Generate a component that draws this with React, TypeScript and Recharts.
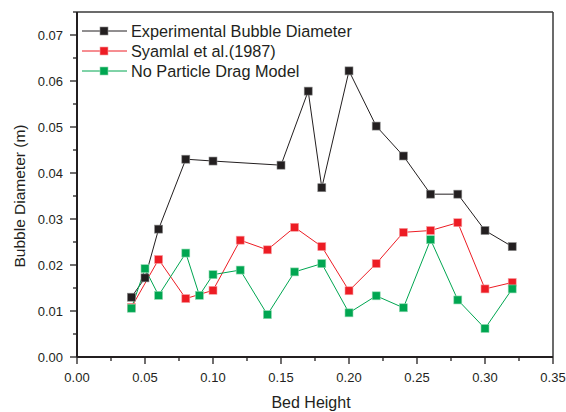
import React from 'react'
import { LineChart, Line, XAxis, YAxis, ReferenceLine } from 'recharts'

const FONT = 'Arial, "Liberation Sans", sans-serif'

// Bed height positions for each series
const expHeight = [0.04, 0.05, 0.06, 0.08, 0.10, 0.15, 0.17, 0.18, 0.20, 0.22, 0.24, 0.26, 0.28, 0.30, 0.32]
const expDiameter = [0.0130, 0.0172, 0.0278, 0.0430, 0.0426, 0.0417, 0.0578, 0.0368, 0.0622, 0.0502, 0.0437, 0.0354, 0.0354, 0.0275, 0.0240]

const syaHeight = [0.04, 0.06, 0.08, 0.10, 0.12, 0.14, 0.16, 0.18, 0.20, 0.22, 0.24, 0.26, 0.28, 0.30, 0.32]
const syaDiameter = [0.0108, 0.0212, 0.0127, 0.0145, 0.0254, 0.0233, 0.0282, 0.0240, 0.0144, 0.0203, 0.0271, 0.0275, 0.0292, 0.0148, 0.0162]

const npdHeight = [0.04, 0.05, 0.06, 0.08, 0.09, 0.10, 0.12, 0.14, 0.16, 0.18, 0.20, 0.22, 0.24, 0.26, 0.28, 0.30, 0.32]
const npdDiameter = [0.0106, 0.0192, 0.0134, 0.0226, 0.0134, 0.0179, 0.0189, 0.0092, 0.0185, 0.0203, 0.0096, 0.0133, 0.0107, 0.0255, 0.0124, 0.0062, 0.0148]

const xTicks = [0, 0.025, 0.05, 0.075, 0.1, 0.125, 0.15, 0.175, 0.2, 0.225, 0.25, 0.275, 0.3, 0.325, 0.35]
const yTicks = [0, 0.005, 0.01, 0.015, 0.02, 0.025, 0.03, 0.035, 0.04, 0.045, 0.05, 0.055, 0.06, 0.065, 0.07, 0.075]

const SERIES = [
  { name: 'Experimental Bubble Diameter', color: '#231f20', edge: '#8a8a8a', xs: expHeight, ys: expDiameter },
  { name: 'Syamlal et al.(1987)', color: '#ed1c24', edge: '#f7a0a3', xs: syaHeight, ys: syaDiameter },
  { name: 'No Particle Drag Model', color: '#00a651', edge: '#8fd9b0', xs: npdHeight, ys: npdDiameter },
]

const toPoints = (xs: number[], ys: number[]) => xs.map((x, i) => ({ x, y: ys[i] }))

const isMultiple = (v: number, step: number) => Math.abs(v / step - Math.round(v / step)) < 1e-6

function XTick({ x, y, payload }: any) {
  const major = isMultiple(payload.value, 0.05)
  return (
    <g>
      <line x1={x} y1={y} x2={x} y2={y + (major ? 7 : 4)} stroke="#231f20" strokeWidth={1.3} />
      {major && (
        <text x={x} y={y + 25} textAnchor="middle" fontSize={13} fill="#231f20" fontFamily={FONT}>
          {payload.value.toFixed(2)}
        </text>
      )}
    </g>
  )
}

function YTick({ x, y, payload }: any) {
  const major = isMultiple(payload.value, 0.01)
  return (
    <g>
      <line x1={x - (major ? 7 : 4)} y1={y} x2={x} y2={y} stroke="#231f20" strokeWidth={1.3} />
      {major && (
        <text x={x - 14} y={y + 4.5} textAnchor="end" fontSize={13} fill="#231f20" fontFamily={FONT}>
          {payload.value.toFixed(2)}
        </text>
      )}
    </g>
  )
}

const squareDot = (color: string, edge: string) => (props: any) => {
  const { cx, cy, index } = props
  return <rect key={index} x={cx - 4} y={cy - 4} width={8} height={8} fill={color} stroke={edge} strokeWidth={0.6} />
}

function LegendBox() {
  return (
    <svg width={566} height={90} style={{ position: 'absolute', left: 0, top: 0 }}>
      {SERIES.map((s, i) => {
        const cy = 31 + i * 20
        return (
          <g key={s.name}>
            <line x1={82} y1={cy} x2={127} y2={cy} stroke={s.color} strokeWidth={1} />
            <rect x={100} y={cy - 4} width={8} height={8} fill={s.color} stroke={s.edge} strokeWidth={0.6} />
            <text x={131} y={cy + 6} fontSize={16.3} fill="#231f20" fontFamily={FONT}>{s.name}</text>
          </g>
        )
      })}
    </svg>
  )
}

export default function App() {
  return (
    <div style={{ position: 'absolute', left: 0, top: 0, width: 566, height: 412, background: '#fff' }}>
      <LineChart width={566} height={412} margin={{ top: 12, right: 13, left: 0, bottom: 0 }}>
        <XAxis
          dataKey="x" type="number" domain={[0, 0.35]} ticks={xTicks} interval={0}
          height={55} tickSize={0} tickMargin={0} tickLine={false} tick={<XTick />}
          axisLine={{ stroke: '#231f20', strokeWidth: 2 }}
          allowDuplicatedCategory={false}
          label={() => (
            <text x={311} y={408} textAnchor="middle" fontSize={16} fill="#231f20" fontFamily={FONT}>Bed Height</text>
          )}
        />
        <YAxis
          dataKey="y" type="number" domain={[0, 0.075]} ticks={yTicks} interval={0}
          width={77} tickSize={0} tickMargin={0} tickLine={false} tick={<YTick />}
          axisLine={{ stroke: '#231f20', strokeWidth: 2 }}
          label={() => (
            <text x={25} y={196} transform="rotate(-90 25 196)" textAnchor="middle" fontSize={15.5} fill="#231f20" fontFamily={FONT}>
              Bubble Diameter (m)
            </text>
          )}
        />
        <ReferenceLine y={0.075} stroke="#3a3a3a" strokeWidth={1.5} />
        <ReferenceLine x={0.35} stroke="#3a3a3a" strokeWidth={1.5} />
        {SERIES.map(s => (
          <Line
            key={s.name}
            name={s.name}
            data={toPoints(s.xs, s.ys)}
            dataKey="y"
            stroke={s.color}
            strokeWidth={1}
            dot={squareDot(s.color, s.edge)}
            activeDot={false}
            isAnimationActive={false}
          />
        ))}
      </LineChart>
      <LegendBox />
    </div>
  )
}
